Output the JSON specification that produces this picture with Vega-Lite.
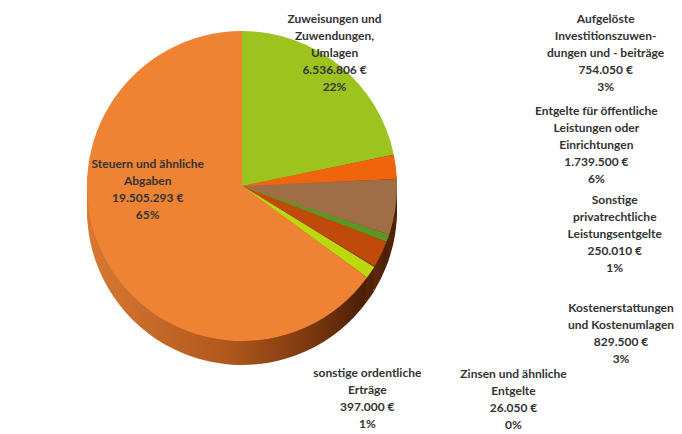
{
  "$schema": "https://vega.github.io/schema/vega-lite/v6.json",
  "autosize": {"type": "none"},
  "width": 484,
  "height": 372,
  "padding": {"left": 0, "top": 0, "right": 198, "bottom": 62},
  "background": "white",
  "config": {"view": {"stroke": null}},
  "data": {"values": [
    {"nr": 1, "kategorie": "Zuweisungen und\nZuwendungen,\nUmlagen", "betrag": 6536806},
    {"nr": 2, "kategorie": "Aufgelöste\nInvestitionszuwen-\ndungen und - beiträge", "betrag": 754050},
    {"nr": 3, "kategorie": "Entgelte für öffentliche\nLeistungen oder\nEinrichtungen", "betrag": 1739500},
    {"nr": 4, "kategorie": "Sonstige\nprivatrechtliche\nLeistungsentgelte", "betrag": 250010},
    {"nr": 5, "kategorie": "Kostenerstattungen\nund Kostenumlagen", "betrag": 829500},
    {"nr": 6, "kategorie": "Zinsen und ähnliche\nEntgelte", "betrag": 26050},
    {"nr": 7, "kategorie": "sonstige ordentliche\nErträge", "betrag": 397000},
    {"nr": 8, "kategorie": "Steuern und ähnliche\nAbgaben", "betrag": 19505293}
  ]},
  "transform": [
    {"joinaggregate": [{"op": "sum", "field": "betrag", "as": "gesamt"}]},
    {"calculate": "datum.betrag / datum.gesamt", "as": "anteil"},
    {"calculate": "datum.kategorie + '\\n' + replace(format(datum.betrag, ',.0f'), regexp(',', 'g'), '.') + ' €\\n' + format(datum.anteil, '.0%')", "as": "label"}
  ],
  "encoding": {
    "theta": {"field": "betrag", "type": "quantitative", "stack": true},
    "order": {"field": "nr", "type": "quantitative"}
  },
  "layer": [
    {"mark": {"type": "arc", "outerRadius": 155, "yOffset": 24, "strokeWidth": 0, "fill": {"gradient": "linear", "x1": 0, "y1": 0, "x2": 1, "y2": 0, "stops": [{"offset": 0, "color": "#D97834"}, {"offset": 0.5, "color": "#B0581C"}, {"offset": 0.8, "color": "#7A380E"}, {"offset": 1, "color": "#4A1E06"}]}}},
    {"mark": {"type": "arc", "outerRadius": 155, "yOffset": 20, "strokeWidth": 0, "fill": {"gradient": "linear", "x1": 0, "y1": 0, "x2": 1, "y2": 0, "stops": [{"offset": 0, "color": "#D97834"}, {"offset": 0.5, "color": "#B0581C"}, {"offset": 0.8, "color": "#7A380E"}, {"offset": 1, "color": "#4A1E06"}]}}},
    {"mark": {"type": "arc", "outerRadius": 155, "yOffset": 16, "strokeWidth": 0, "fill": {"gradient": "linear", "x1": 0, "y1": 0, "x2": 1, "y2": 0, "stops": [{"offset": 0, "color": "#D97834"}, {"offset": 0.5, "color": "#B0581C"}, {"offset": 0.8, "color": "#7A380E"}, {"offset": 1, "color": "#4A1E06"}]}}},
    {"mark": {"type": "arc", "outerRadius": 155, "yOffset": 12, "strokeWidth": 0, "fill": {"gradient": "linear", "x1": 0, "y1": 0, "x2": 1, "y2": 0, "stops": [{"offset": 0, "color": "#D97834"}, {"offset": 0.5, "color": "#B0581C"}, {"offset": 0.8, "color": "#7A380E"}, {"offset": 1, "color": "#4A1E06"}]}}},
    {"mark": {"type": "arc", "outerRadius": 155, "yOffset": 8, "strokeWidth": 0, "fill": {"gradient": "linear", "x1": 0, "y1": 0, "x2": 1, "y2": 0, "stops": [{"offset": 0, "color": "#D97834"}, {"offset": 0.5, "color": "#B0581C"}, {"offset": 0.8, "color": "#7A380E"}, {"offset": 1, "color": "#4A1E06"}]}}},
    {"mark": {"type": "arc", "outerRadius": 155, "yOffset": 4, "strokeWidth": 0, "fill": {"gradient": "linear", "x1": 0, "y1": 0, "x2": 1, "y2": 0, "stops": [{"offset": 0, "color": "#D97834"}, {"offset": 0.5, "color": "#B0581C"}, {"offset": 0.8, "color": "#7A380E"}, {"offset": 1, "color": "#4A1E06"}]}}},
    {
      "mark": {"type": "arc", "outerRadius": 155, "strokeWidth": 0},
      "encoding": {
        "color": {"field": "kategorie", "type": "nominal", "legend": null,
          "scale": {
            "domain": ["Zuweisungen und\nZuwendungen,\nUmlagen", "Aufgelöste\nInvestitionszuwen-\ndungen und - beiträge", "Entgelte für öffentliche\nLeistungen oder\nEinrichtungen", "Sonstige\nprivatrechtliche\nLeistungsentgelte", "Kostenerstattungen\nund Kostenumlagen", "Zinsen und ähnliche\nEntgelte", "sonstige ordentliche\nErträge", "Steuern und ähnliche\nAbgaben"],
            "range": ["#9DC41E", "#F0640E", "#A06E46", "#5E9626", "#BF4A0A", "#8B2E0B", "#BCD80E", "#EF8334"]
          }}
      }
    },
    {"mark": {"type": "text", "radius": 175, "dx": -18, "dy": -31, "font": "Lato", "fontWeight": "bold", "fontSize": 12, "lineHeight": 17, "fill": "#333333", "align": "center", "baseline": "middle", "lineBreak": "\n"},
     "encoding": {"text": {"condition": {"test": "datum.nr == 1", "field": "label"}, "value": ""}}},
    {"mark": {"type": "text", "radius": 175, "dx": 190, "dy": -145, "font": "Lato", "fontWeight": "bold", "fontSize": 12, "lineHeight": 17, "fill": "#333333", "align": "center", "baseline": "middle", "lineBreak": "\n"},
     "encoding": {"text": {"condition": {"test": "datum.nr == 2", "field": "label"}, "value": ""}}},
    {"mark": {"type": "text", "radius": 175, "dx": 181, "dy": -99, "font": "Lato", "fontWeight": "bold", "fontSize": 12, "lineHeight": 17, "fill": "#333333", "align": "center", "baseline": "middle", "lineBreak": "\n"},
     "encoding": {"text": {"condition": {"test": "datum.nr == 3", "field": "label"}, "value": ""}}},
    {"mark": {"type": "text", "radius": 175, "dx": 208, "dy": -45, "font": "Lato", "fontWeight": "bold", "fontSize": 12, "lineHeight": 17, "fill": "#333333", "align": "center", "baseline": "middle", "lineBreak": "\n"},
     "encoding": {"text": {"condition": {"test": "datum.nr == 4", "field": "label"}, "value": ""}}},
    {"mark": {"type": "text", "radius": 175, "dx": 222, "dy": 45, "font": "Lato", "fontWeight": "bold", "fontSize": 12, "lineHeight": 17, "fill": "#333333", "align": "center", "baseline": "middle", "lineBreak": "\n"},
     "encoding": {"text": {"condition": {"test": "datum.nr == 5", "field": "label"}, "value": ""}}},
    {"mark": {"type": "text", "radius": 175, "dx": 122, "dy": 97, "font": "Lato", "fontWeight": "bold", "fontSize": 12, "lineHeight": 17, "fill": "#333333", "align": "center", "baseline": "middle", "lineBreak": "\n"},
     "encoding": {"text": {"condition": {"test": "datum.nr == 6", "field": "label"}, "value": ""}}},
    {"mark": {"type": "text", "radius": 175, "dx": -20, "dy": 90, "font": "Lato", "fontWeight": "bold", "fontSize": 12, "lineHeight": 17, "fill": "#333333", "align": "center", "baseline": "middle", "lineBreak": "\n"},
     "encoding": {"text": {"condition": {"test": "datum.nr == 7", "field": "label"}, "value": ""}}},
    {"mark": {"type": "text", "radius": 90, "dx": -14, "dy": -63, "font": "Lato", "fontWeight": "bold", "fontSize": 12, "lineHeight": 17, "fill": "#333333", "align": "center", "baseline": "middle", "lineBreak": "\n"},
     "encoding": {"text": {"condition": {"test": "datum.nr == 8", "field": "label"}, "value": ""}}}
  ]
}
